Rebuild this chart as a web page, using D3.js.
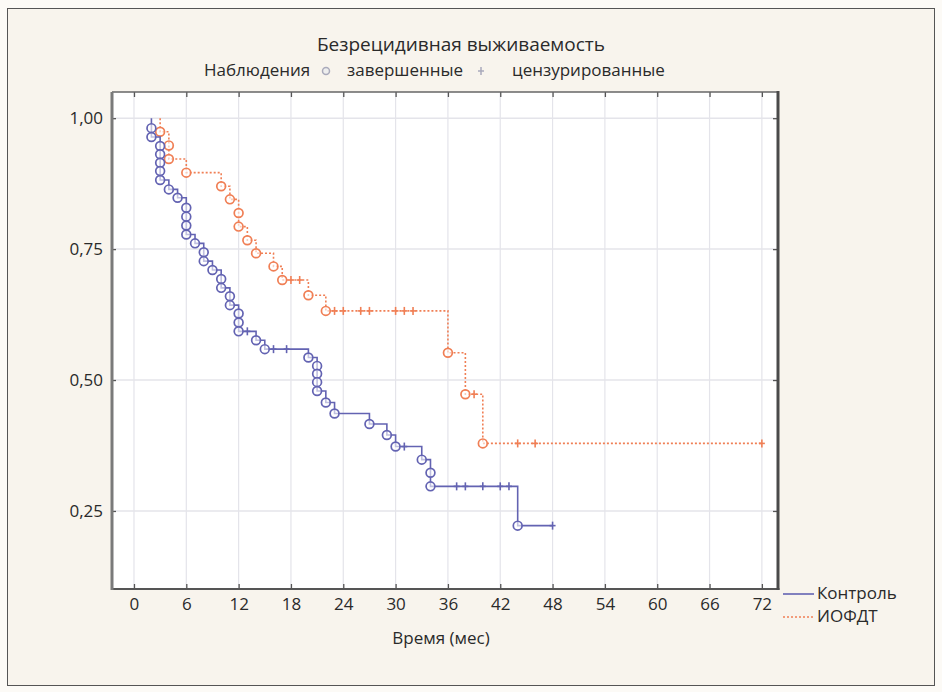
<!DOCTYPE html>
<html><head><meta charset="utf-8">
<script src="https://cdn.jsdelivr.net/npm/d3@7"></script>
<style>
html,body{margin:0;padding:0;background:#fcfaf6;}
svg{display:block;font-family:"Open Sans",Lato,sans-serif;}
</style></head>
<body>
<svg id="c" width="942" height="692"></svg>
<script>
// ---- data ----
const xTicks = [0,6,12,18,24,30,36,42,48,54,60,66,72];
const yTicks = [0.25,0.50,0.75,1.00];
// Контроль (control): time (months), survival after observation, 1=completed, 0=censored
const ctrlTime  = [2,2,3,3,3,3,3,4,5,6,6,6,6,7,8,8,9,10,10,11,11,12,12,12,13,14,15,16,17.5,20,21,21,21,21,22,23,27,29,30,31,33,34,34,37,38,40,42,43,44,48];
const ctrlSurv  = [0.981,0.964,0.947,0.931,0.915,0.899,0.882,0.864,0.848,0.829,0.812,0.795,0.778,0.761,0.744,0.727,0.710,0.693,0.676,0.660,0.643,0.627,0.610,0.593,0.593,0.576,0.559,0.559,0.559,0.543,0.527,0.512,0.496,0.479,0.457,0.436,0.416,0.395,0.373,0.373,0.348,0.323,0.297,0.297,0.297,0.297,0.297,0.297,0.222,0.222];
const ctrlEvent = [1,1,1,1,1,1,1,1,1,1,1,1,1,1,1,1,1,1,1,1,1,1,1,1,0,1,1,0,0,1,1,1,1,1,1,1,1,1,1,0,1,1,1,0,0,0,0,0,1,0];
// ИОФДТ
const iofTime  = [3,4,4,6,10,11,12,12,13,14,16,17,18,19,20,22,23,24,26,27,30,31,32,36,38,39,40,44,46,72];
const iofSurv  = [0.974,0.948,0.922,0.896,0.870,0.845,0.819,0.793,0.767,0.742,0.717,0.691,0.691,0.691,0.662,0.632,0.632,0.632,0.632,0.632,0.632,0.632,0.632,0.552,0.473,0.473,0.379,0.379,0.379,0.379];
const iofEvent = [1,1,1,1,1,1,1,1,1,1,1,1,0,0,1,1,0,0,0,0,0,0,0,1,1,0,1,0,0,0];

const seriesNames = ["Контроль","ИОФДТ"];
const titleText = "Безрецидивная выживаемость";
const legendWords = ["Наблюдения","завершенные","цензурированные"];
const xLabel = "Время (мес)";

// ---- layout ----
const svg = d3.select("#c");
const L=112, R=778, T=92, B=589;
const x = d3.scaleLinear().domain([-2.52,73.85]).range([L,R]);
const y = d3.scaleLinear().domain([0.101,1.05]).range([B,T]);
const blue="#6363b2", orange="#f07f55", ink="#2a2a2a";
const FS = "17px";

// outer panel
svg.append("rect").attr("x",7.5).attr("y",8.5).attr("width",927).attr("height",677)
  .attr("fill","#f8f4ed").attr("stroke","#555").attr("stroke-width",1);

// plot area
svg.append("rect").attr("x",L).attr("y",T).attr("width",R-L).attr("height",B-T).attr("fill","#fff");

// grid
svg.append("g").selectAll("line").data(xTicks).join("line")
  .attr("x1",d=>x(d)).attr("x2",d=>x(d)).attr("y1",T).attr("y2",B)
  .attr("stroke","#e4e4ea").attr("stroke-width",1.2);
svg.append("g").selectAll("line").data(yTicks).join("line")
  .attr("x1",L).attr("x2",R).attr("y1",d=>y(d)).attr("y2",d=>y(d))
  .attr("stroke","#e4e4ea").attr("stroke-width",1.5);

const fmt = d=>d3.format(".2f")(d).replace(".",",");
// axes
const gx = svg.append("g").attr("transform",`translate(0,${B})`)
  .call(d3.axisBottom(x).tickValues(xTicks).tickSize(-5).tickPadding(9).tickFormat(d3.format("d")));
const gxt = svg.append("g").attr("transform",`translate(0,${T})`)
  .call(d3.axisTop(x).tickValues(xTicks).tickSize(-5).tickFormat(""));
const gy = svg.append("g").attr("transform",`translate(${L},0)`)
  .call(d3.axisLeft(y).tickValues(yTicks).tickSize(-4).tickPadding(9).tickFormat(fmt));
const gyr = svg.append("g").attr("transform",`translate(${R},0)`)
  .call(d3.axisRight(y).tickValues(yTicks).tickSize(-5).tickFormat(""));
[gx,gxt,gy,gyr].forEach(g=>{
  g.select(".domain").remove();
  g.selectAll(".tick line").attr("stroke","#555").attr("stroke-width",1.3);
  g.selectAll("text").attr("fill",ink).style("font-size",FS).style("font-family","'Open Sans',sans-serif");
});

// frame
svg.append("line").attr("x1",L).attr("x2",R).attr("y1",T).attr("y2",T).attr("stroke","#666").attr("stroke-width",1.5);
svg.append("line").attr("x1",L).attr("x2",R+1.5).attr("y1",B).attr("y2",B).attr("stroke","#555").attr("stroke-width",2);
svg.append("line").attr("x1",L).attr("x2",L).attr("y1",T).attr("y2",B+1).attr("stroke","#7a7a7a").attr("stroke-width",3);
svg.append("line").attr("x1",R).attr("x2",R).attr("y1",T-1).attr("y2",B+1).attr("stroke","#4a4a4a").attr("stroke-width",3);

// curves
function drawKM(times, surv, ev, color, dash){
  const pts = [[times[0],1]].concat(times.map((t,i)=>[t,surv[i]]));
  const line = d3.line().x(d=>x(d[0])).y(d=>y(d[1])).curve(d3.curveStepAfter);
  svg.append("path").attr("d",line(pts)).attr("fill","none").attr("stroke",color)
    .attr("stroke-width",1.6).attr("stroke-dasharray",dash||null);
  const obs = times.map((t,i)=>({t, s:surv[i], e:ev[i]}));
  const g = svg.append("g");
  g.selectAll("line.c").data(obs.filter(d=>!d.e)).join("line").attr("class","c")
    .attr("x1",d=>x(d.t)).attr("x2",d=>x(d.t)).attr("y1",d=>y(d.s)-4).attr("y2",d=>y(d.s)+4)
    .attr("stroke",color).attr("stroke-width",1.6);
  g.selectAll("line.h").data(obs.filter(d=>!d.e)).join("line").attr("class","h")
    .attr("x1",d=>x(d.t)-3).attr("x2",d=>x(d.t)+3).attr("y1",d=>y(d.s)).attr("y2",d=>y(d.s))
    .attr("stroke",color).attr("stroke-width",1.6);
  g.selectAll("circle").data(obs.filter(d=>d.e)).join("circle")
    .attr("cx",d=>x(d.t)).attr("cy",d=>y(d.s)).attr("r",4.4)
    .attr("fill","#fff").attr("fill-opacity",0.6).attr("stroke",color).attr("stroke-width",1.7);
}
drawKM(iofTime, iofSurv, iofEvent, orange, "2,2");
drawKM(ctrlTime, ctrlSurv, ctrlEvent, blue, null);

// title & legend
svg.append("text").attr("x",461).attr("y",51).attr("text-anchor","middle")
  .style("font-size","19px").attr("fill",ink).text(titleText);
const ly = 76;
svg.append("text").attr("x",204).attr("y",ly).style("font-size",FS).attr("fill",ink).text(legendWords[0]);
svg.append("circle").attr("cx",326).attr("cy",ly-5).attr("r",3.5).attr("fill","#eee").attr("stroke","#aab").attr("stroke-width",1.5);
svg.append("text").attr("x",347).attr("y",ly).style("font-size",FS).attr("fill",ink).text(legendWords[1]);
svg.append("line").attr("x1",481).attr("x2",481).attr("y1",ly-9).attr("y2",ly-1).attr("stroke","#aab").attr("stroke-width",1.5);
svg.append("line").attr("x1",478).attr("x2",484).attr("y1",ly-5).attr("y2",ly-5).attr("stroke","#aab").attr("stroke-width",1.5);
svg.append("text").attr("x",512).attr("y",ly).style("font-size",FS).attr("fill",ink).text(legendWords[2]);

// x label
svg.append("text").attr("x",441).attr("y",644).attr("text-anchor","middle")
  .style("font-size",FS).attr("fill",ink).text(xLabel);

// series legend
const sl = svg.append("g");
sl.append("line").attr("x1",783).attr("x2",814).attr("y1",594).attr("y2",594).attr("stroke",blue).attr("stroke-width",1.6);
sl.append("text").attr("x",817).attr("y",599).style("font-size",FS).attr("fill",ink).text(seriesNames[0]);
sl.append("line").attr("x1",783).attr("x2",814).attr("y1",617).attr("y2",617).attr("stroke",orange).attr("stroke-width",1.6).attr("stroke-dasharray","2,2");
sl.append("text").attr("x",817).attr("y",622).style("font-size",FS).attr("fill",ink).text(seriesNames[1]);
</script>
</body></html>
